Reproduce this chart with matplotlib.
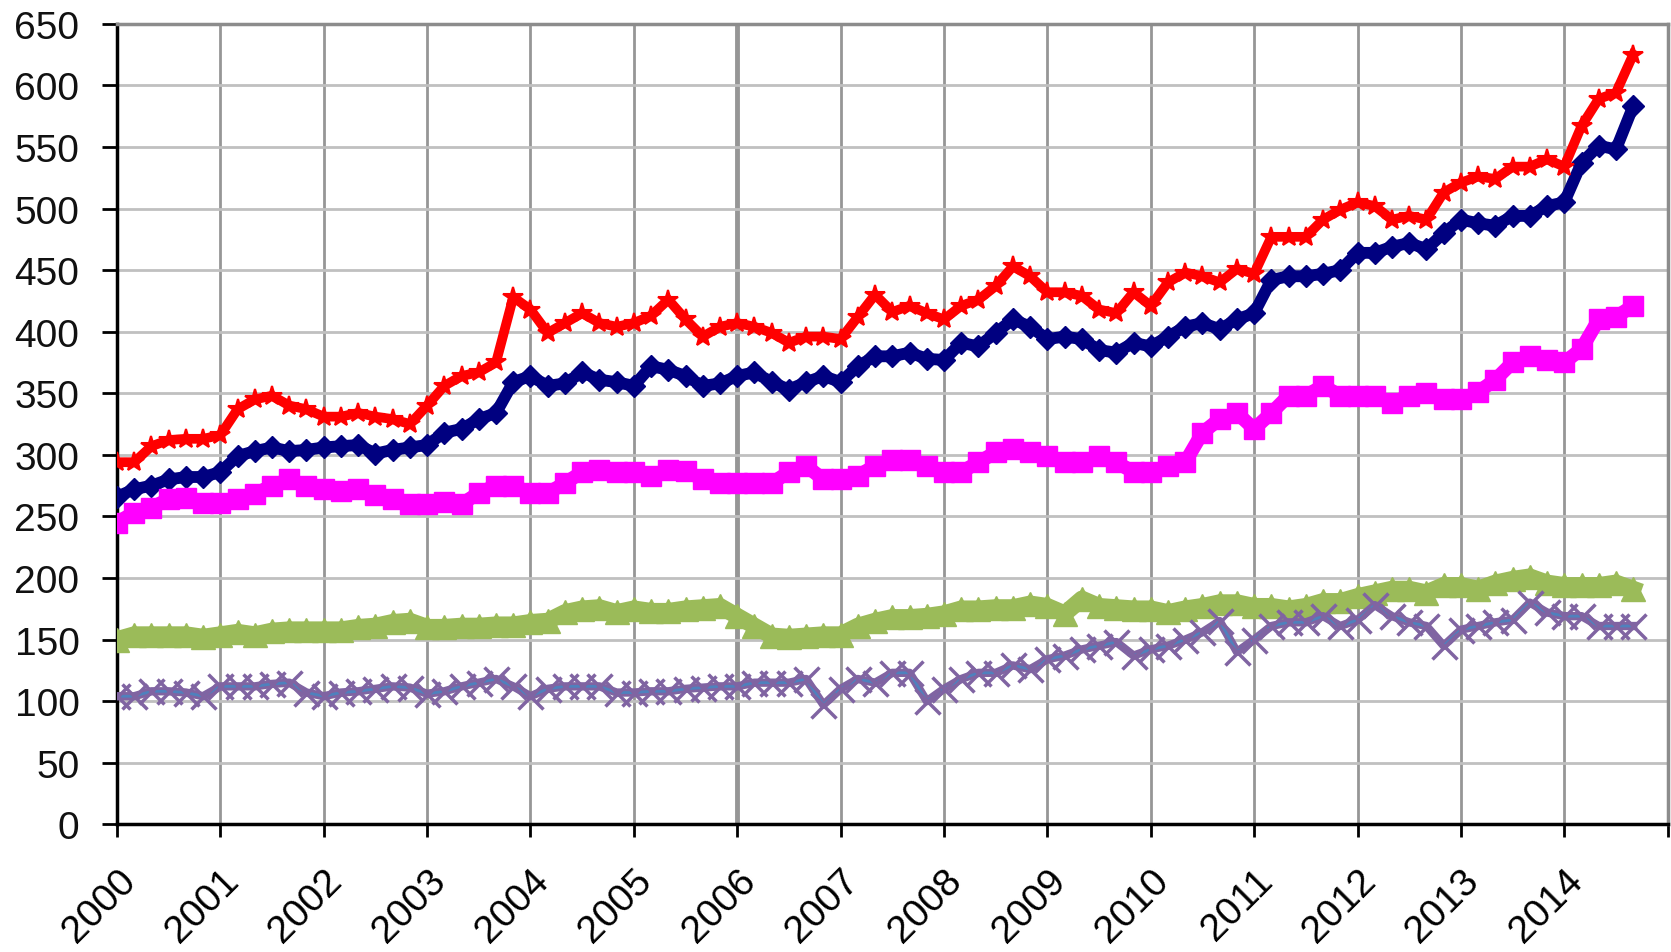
"""
Five weekly index series, 2000-2014, drawn as thick marker lines.
"""

import numpy as np
import matplotlib
matplotlib.use('Agg')
import matplotlib.pyplot as plt

plt.rcParams['font.family'] = ['Liberation Sans', 'DejaVu Sans']

# one reading every two months, starting Jan 2000
years = 2000 + np.arange(89) / 6.0

red = [294, 294, 307, 312, 313, 313,
       316, 337, 345, 348, 340, 337,
       331, 331, 334, 331, 329, 325,
       340, 356, 364, 367, 375, 428,
       418, 399, 407, 415, 407, 404,
       407, 413, 426, 410, 396, 404,
       407, 404, 399, 391, 396, 396,
       394, 412, 430, 416, 421, 415,
       410, 421, 426, 437, 453, 445,
       432, 432, 429, 418, 415, 432,
       421, 440, 448, 445, 440, 451,
       447, 477, 477, 477, 491, 499,
       505, 502, 491, 494, 491, 513,
       521, 526, 524, 534, 534, 540,
       534, 567, 589, 594, 625]

navy = [266, 272, 275, 280, 282, 282,
        286, 299, 303, 306, 303, 304,
        306, 307, 308, 301, 304, 306,
        308, 318, 321, 329, 334, 359,
        364, 356, 358, 367, 361, 359,
        356, 372, 369, 364, 356, 358,
        364, 367, 359, 353, 359, 364,
        359, 372, 380, 380, 383, 378,
        377, 391, 388, 399, 410, 404,
        394, 396, 394, 385, 383, 391,
        388, 396, 404, 407, 402, 410,
        415, 442, 445, 445, 447, 450,
        464, 464, 469, 472, 467, 480,
        491, 488, 486, 494, 494, 502,
        505, 537, 551, 548, 583]

magenta = [245, 253, 257, 264, 265, 261,
           261, 264, 268, 275, 280, 275,
           272, 271, 272, 267, 264, 260,
           260, 262, 260, 269, 275, 275,
           269, 269, 277, 286, 288, 286,
           286, 283, 288, 287, 280, 277,
           277, 277, 277, 286, 291, 280,
           280, 283, 291, 296, 296, 291,
           286, 286, 294, 302, 305, 302,
           299, 294, 294, 299, 294, 286,
           286, 291, 294, 318, 329, 334,
           321, 334, 348, 348, 356, 348,
           348, 348, 342, 348, 350, 345,
           345, 351, 361, 375, 380, 377,
           375, 386, 410, 412, 421]

green = [150, 154, 154, 154, 154, 152,
         154, 156, 154, 157, 158, 158,
         158, 158, 160, 161, 164, 165,
         160, 160, 161, 161, 162, 162,
         164, 165, 172, 175, 176, 172,
         175, 173, 173, 175, 176, 177,
         169, 161, 153, 152, 153, 154,
         154, 161, 165, 168, 168, 169,
         171, 175, 175, 176, 176, 179,
         177, 171, 183, 177, 176, 175,
         175, 172, 175, 177, 180, 180,
         177, 177, 175, 177, 181, 181,
         185, 188, 191, 191, 188, 194,
         194, 191, 196, 199, 201, 196,
         194, 194, 194, 196, 191]

purple = [104, 104, 108, 108, 107, 104,
          112, 112, 112, 114, 115, 107,
          104, 107, 108, 110, 112, 111,
          106, 108, 112, 115, 118, 112,
          104, 110, 112, 112, 112, 107,
          107, 108, 108, 110, 111, 112,
          112, 115, 115, 115, 118, 97,
          110, 118, 115, 123, 123, 100,
          110, 118, 123, 123, 129, 126,
          134, 137, 142, 145, 148, 137,
          142, 145, 150, 156, 165, 140,
          150, 161, 164, 164, 169, 161,
          166, 178, 169, 164, 161, 145,
          158, 161, 164, 166, 180, 172,
          169, 169, 161, 161, 161]

year_ticks = list(range(2000, 2016))
year_labels = [str(y) for y in range(2000, 2015)] + ['']
value_ticks = list(range(0, 651, 50))

fig = plt.figure(figsize=(16.71, 9.53), dpi=100)
ax = fig.add_axes([0.070, 0.134, 0.928, 0.840])

# thick lines plus markers give the dense, fuzzy bands of the original
ax.plot(years, navy, color='#000080', lw=8.5, marker='D', ms=11,
        solid_joinstyle='round', zorder=3)
ax.plot(years, red, color='#FF0000', lw=7, marker='*', ms=15, mew=1.5,
        solid_joinstyle='round', zorder=4)
ax.plot(years, magenta, color='#FF00FF', lw=10, marker='s', ms=14, zorder=3)
ax.plot(years, green, color='#9BBB59', lw=12, marker='^', ms=17,
        solid_joinstyle='round', zorder=3)
ax.plot(years, purple, color='#8064A2', lw=6, solid_joinstyle='round', zorder=4)
ax.plot(years, purple, color='#4F81BD', lw=2, zorder=4)
ax.plot(years, purple, color='#8064A2', lw=0, marker='x', ms=18, mew=2.5,
        zorder=5)

ax.set_xlim(2000, 2015)
ax.set_ylim(0, 650)
ax.set_xticks(year_ticks)
ax.set_xticklabels(year_labels, rotation=45, ha='right', va='top',
                   rotation_mode='anchor', fontsize=28)
ax.set_yticks(value_ticks)
ax.set_yticklabels([str(v) for v in value_ticks], fontsize=28, color='#111111')

ax.tick_params(axis='y', direction='out', length=11, width=2, pad=16)
ax.tick_params(axis='x', direction='out', length=9, width=2, pad=18)

ax.xaxis.grid(True, color='#969696', lw=2)
ax.yaxis.grid(True, color='#c0c0c0', lw=2)
ax.set_axisbelow(True)
ax.get_xgridlines()[6].set_linewidth(3.5)

for side in ['left', 'bottom']:
    ax.spines[side].set_color('black')
    ax.spines[side].set_linewidth(2.5)
for side in ['top', 'right']:
    ax.spines[side].set_color('#8c8c8c')
    ax.spines[side].set_linewidth(2.5)

fig.savefig('out.png', dpi=100)
